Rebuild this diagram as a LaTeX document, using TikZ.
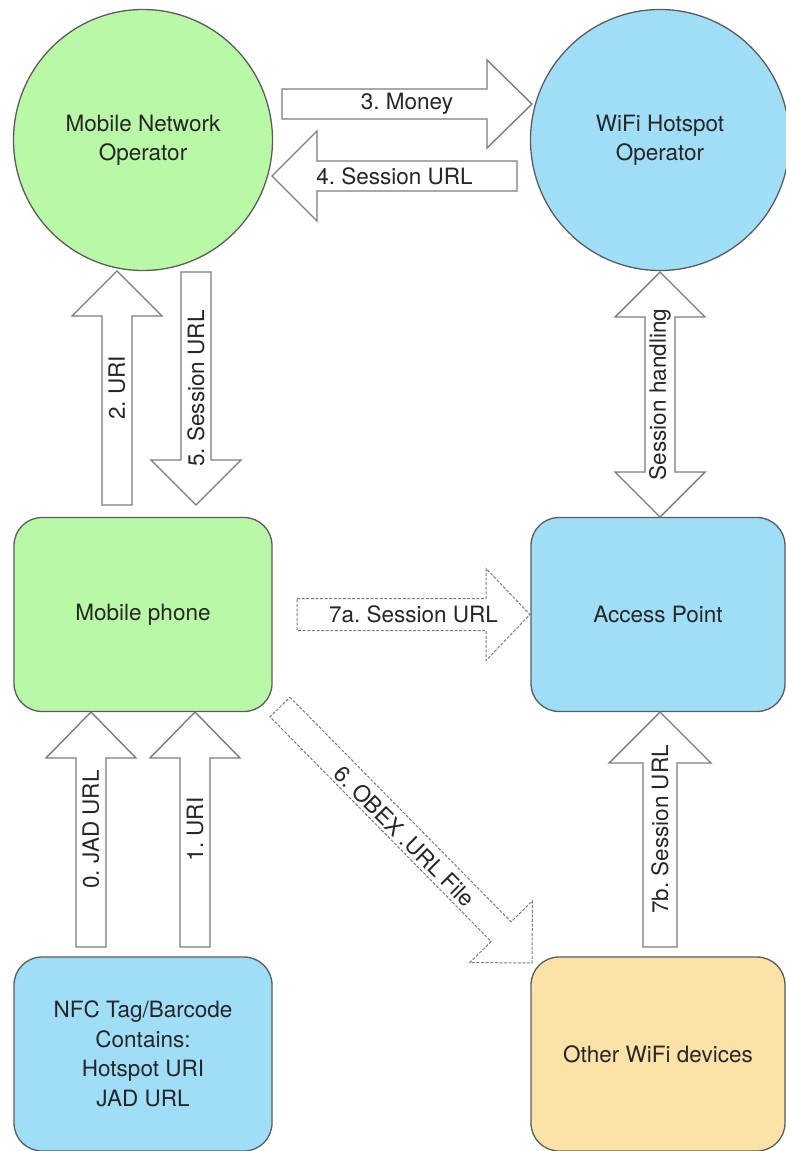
\documentclass[tikz,border=0pt]{standalone}
\usepackage{fontspec}
\setmainfont{TeX Gyre Heros}
\frenchspacing
\usetikzlibrary{shapes.geometric,calc}
\definecolor{gfill}{HTML}{B9F8A6}
\definecolor{bfill}{HTML}{A0DEF7}
\definecolor{ofill}{HTML}{FBE3A8}
\definecolor{edge}{HTML}{5C5C5C}
\definecolor{arr}{HTML}{7C7C7C}
\definecolor{txt}{HTML}{262626}
\newcommand\blkarrow[6][]{%
  \coordinate (hb) at ($(#3)!#6!(#2)$);
  \draw[#1] ($(#2)!#4!90:(#3)$) -- ($(hb)!#4!90:(#3)$) -- ($(hb)!#5!90:(#3)$) -- (#3)
    -- ($(hb)!#5!-90:(#3)$) -- ($(hb)!#4!-90:(#3)$) -- ($(#2)!#4!-90:(#3)$) -- cycle;
}
\newcommand\dblarrow[6][]{%
  \coordinate (hA) at ($(#2)!#6!(#3)$);
  \coordinate (hB) at ($(#3)!#6!(#2)$);
  \draw[#1] (#2) -- ($(hA)!#5!90:(#3)$) -- ($(hA)!#4!90:(#3)$) -- ($(hB)!#4!-90:(#2)$)
    -- ($(hB)!#5!-90:(#2)$) -- (#3) -- ($(hB)!#5!90:(#2)$) -- ($(hB)!#4!90:(#2)$)
    -- ($(hA)!#4!-90:(#3)$) -- ($(hA)!#5!-90:(#3)$) -- cycle;
}
\begin{document}
\begin{tikzpicture}[x=1pt,y=-1pt,
  every node/.style={font=\fontsize{22.5}{29.5}\selectfont, text=txt},
  oval/.style={ellipse, draw=edge, line width=1.3pt, inner sep=0pt,
    minimum width=259pt, minimum height=261pt, align=center},
  box/.style={rectangle, rounded corners=28pt, draw=edge, line width=1.3pt,
    inner sep=0pt, align=center, minimum height=194pt},
  solidarr/.style={draw=arr, fill=white, line width=1.4pt, line join=miter},
  dasharr/.style={draw=arr, fill=white, line width=1pt, dash pattern=on 3pt off 1.6pt},
  lbl/.style={inner sep=0pt}]
\useasboundingbox (0,0) rectangle (786,1151);

% nodes
\node[oval, fill=gfill] (mno) at (143,140) {Mobile Network\\Operator};
\node[oval, fill=bfill] (wifi) at (660,140) {WiFi Hotspot\\Operator};
\node[box, fill=gfill, minimum width=258pt] (phone) at (143,614.5) {Mobile phone};
\node[box, fill=bfill, minimum width=254pt] (ap) at (658,614.5) {Access Point};
\node[box, fill=bfill, minimum width=258pt] (nfc) at (143,1054) {NFC Tag/Barcode\\Contains:\\Hotspot URI\\JAD URL};
\node[box, fill=ofill, minimum width=254pt] (other) at (658,1054) {Other WiFi devices};

% arrow end points
\coordinate (a3t) at (282,104);  \coordinate (a3h) at (532,104);
\coordinate (a4t) at (517,176);  \coordinate (a4h) at (272,176);
\coordinate (a2t) at (117,505);  \coordinate (a2h) at (117,271);
\coordinate (a5t) at (196,272);  \coordinate (a5h) at (196,505);
\coordinate (sht) at (660,272);  \coordinate (shb) at (660,517);
\coordinate (a7at) at (297,614.5); \coordinate (a7ah) at (530,614.5);
\coordinate (a0t) at (91,947);   \coordinate (a0h) at (91,712);
\coordinate (a1t) at (195,947);  \coordinate (a1h) at (195,712);
\coordinate (a7bt) at (660,947); \coordinate (a7bh) at (660,712);
\coordinate (a6t) at (280,707);  \coordinate (a6h) at (532,963);

% block arrows
\blkarrow[solidarr]{a3t}{a3h}{15pt}{44pt}{45pt}
\blkarrow[solidarr]{a4t}{a4h}{15pt}{45pt}{45pt}
\blkarrow[solidarr]{a2t}{a2h}{15pt}{45pt}{45pt}
\blkarrow[solidarr]{a5t}{a5h}{15pt}{45pt}{45pt}
\dblarrow[solidarr]{sht}{shb}{15pt}{45pt}{45pt}
\blkarrow[dasharr]{a7at}{a7ah}{16pt}{46pt}{44pt}
\blkarrow[solidarr]{a0t}{a0h}{15pt}{45pt}{46pt}
\blkarrow[solidarr]{a1t}{a1h}{15pt}{45pt}{46pt}
\blkarrow[solidarr]{a7bt}{a7bh}{17pt}{51pt}{51pt}
\blkarrow[dasharr]{a6t}{a6h}{14pt}{44pt}{44pt}

% labels
\path (a3t) -- node[lbl] {3. Money} (a3h);
\path (a4t) -- node[lbl] {4. Session URL} (a4h);
\path (a2t) -- node[lbl, rotate=90] {2. URI} (a2h);
\path (a5t) -- node[lbl, rotate=90] {5. Session URL} (a5h);
\path (sht) -- node[lbl, rotate=90] {Session handling} (shb);
\path (a7at) -- node[lbl] {7a. Session URL} (a7ah);
\path (a0t) -- node[lbl, rotate=90] {0. JAD URL} (a0h);
\path (a1t) -- node[lbl, rotate=90] {1. URI} (a1h);
\path (a7bt) -- node[lbl, rotate=90] {7b. Session URL} (a7bh);
\path (a6t) -- node[lbl, rotate=-45, yshift=-2pt] {6. OBEX .URL File} (a6h);
\end{tikzpicture}
\end{document}
